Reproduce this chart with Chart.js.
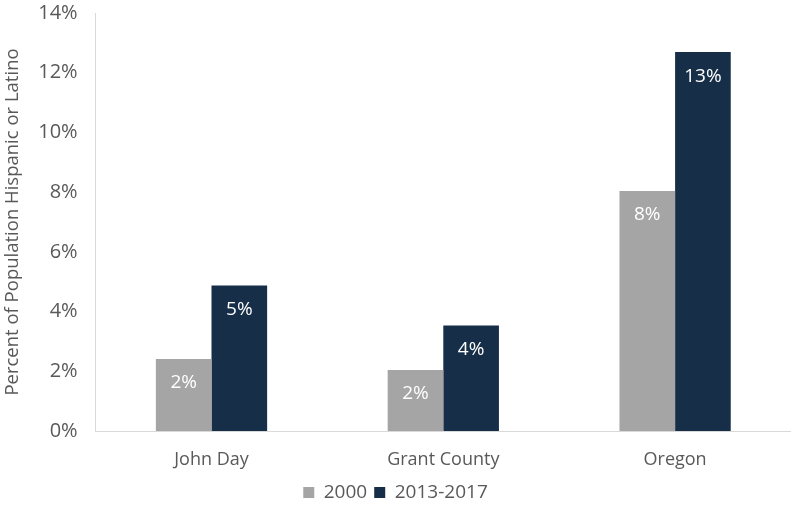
<!DOCTYPE html>
<html>
<head>
<meta charset="utf-8">
<script src="https://cdn.jsdelivr.net/npm/chart.js@4/dist/chart.umd.min.js"></script>
<style>
  html, body { margin: 0; padding: 0; background: #fff; }
  #wrap { width: 791px; height: 512px; }
</style>
</head>
<body>
<div id="wrap"><canvas id="c" width="791" height="512"></canvas></div>
<script>
const categories = ['John Day', 'Grant County', 'Oregon'];
const seriesNames = ['2000', '2013-2017'];
const values2000 = [2.41, 2.04, 8.04];
const values2013 = [4.87, 3.53, 12.69];
const labels2000 = ['2%', '2%', '8%'];
const labels2013 = ['5%', '4%', '13%'];

const FONT = "'Open Sans', 'Liberation Sans', sans-serif";
const TEXT = '#595959';

// draws the white value labels just inside the top of each bar
const barLabels = {
    id: 'barLabels',
    afterDatasetsDraw(chart) {
        const ctx = chart.ctx;
        ctx.save();
        ctx.fillStyle = '#ffffff';
        ctx.font = '19px ' + FONT;
        ctx.textAlign = 'center';
        ctx.textBaseline = 'middle';
        chart.data.datasets.forEach((ds, di) => {
            chart.getDatasetMeta(di).data.forEach((bar, i) => {
                ctx.fillText(ds.valueLabels[i], bar.x, bar.y + 24);
            });
        });
        ctx.restore();
    }
};

new Chart(document.getElementById('c'), {
    type: 'bar',
    data: {
        labels: categories,
        datasets: [
            { label: seriesNames[0], data: values2000, valueLabels: labels2000, backgroundColor: '#a5a5a5' },
            { label: seriesNames[1], data: values2013, valueLabels: labels2013, backgroundColor: '#162e48' }
        ]
    },
    options: {
        responsive: false,
        animation: false,
        layout: { padding: { top: 13, right: 0, left: 0, bottom: 0 } },
        datasets: { bar: { barPercentage: 1, categoryPercentage: 0.48 } },
        plugins: {
            legend: {
                position: 'bottom',
                labels: { color: TEXT, font: { family: FONT, size: 19 }, boxWidth: 11, boxHeight: 11, padding: 7 }
            },
            tooltip: { enabled: false }
        },
        scales: {
            x: {
                grid: { display: false, drawTicks: false },
                border: { color: '#d9d9d9', width: 1 },
                ticks: { color: TEXT, font: { family: FONT, size: 18, lineHeight: 0.5 }, padding: 24 },
                afterFit: s => { s.height = 45; }
            },
            y: {
                min: 0, max: 14,
                grid: { display: false, drawTicks: true, tickLength: 6, color: '#d9d9d9' },
                border: { color: '#d9d9d9', width: 1 },
                ticks: { stepSize: 2, color: TEXT, font: { family: FONT, size: 20 }, padding: 12, callback: v => v + '%' },
                title: { display: true, text: 'Percent of Population Hispanic or Latino', color: TEXT, font: { family: FONT, size: 18.5 }, padding: 2 },
                afterFit: s => { s.paddingTop = 0; s.paddingBottom = 0; }
            }
        }
    },
    plugins: [barLabels]
});
</script>
</body>
</html>
